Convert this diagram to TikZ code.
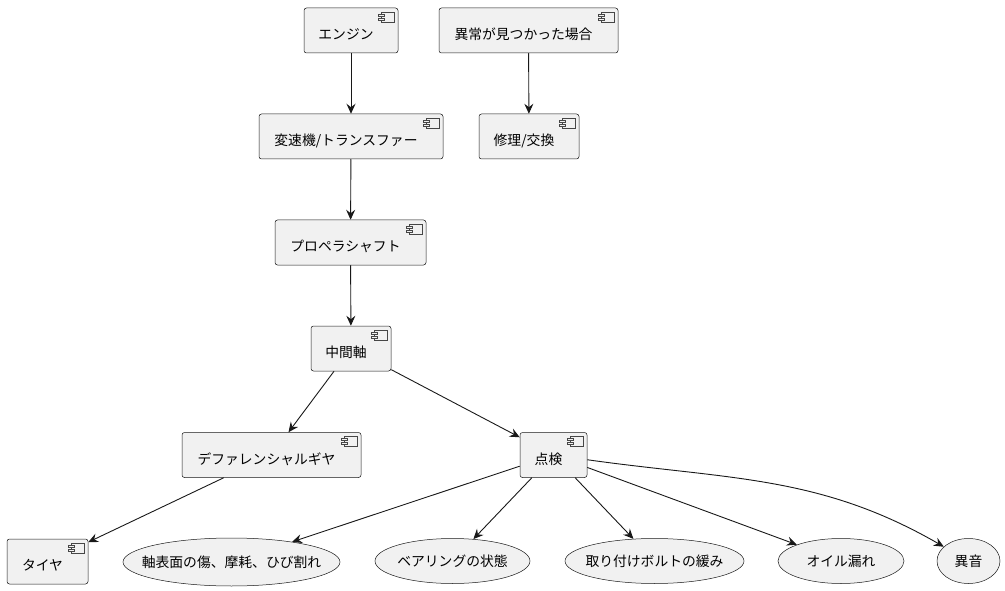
\documentclass[tikz,border=0pt]{standalone}
\usepackage{fontspec}
\newfontfamily\jp{Noto Sans CJK JP}
\usetikzlibrary{shapes.geometric,arrows.meta}
\definecolor{umlline}{HTML}{181818}
\definecolor{umlfill}{HTML}{F1F1F1}
\begin{document}
\begin{tikzpicture}[x=1pt, y=-1pt,
  comp/.style = {draw=umlline, fill=umlfill, line width=0.5pt, rounded corners=2.5pt,
    minimum height=45pt, inner xsep=2pt, text height=18pt, text depth=0pt,
    font=\jp\fontsize{13.8}{16}\selectfont, execute at end node=\hspace*{10pt}},
  usecase/.style = {ellipse, draw=umlline, fill=umlfill, line width=0.5pt,
    inner xsep=-16pt, inner ysep=-12pt, minimum height=45pt,
    font=\jp\fontsize{13.8}{16}\selectfont},
  flow/.style = {draw=umlline, line width=0.9pt, -{Stealth[length=10pt, width=9pt, inset=3.5pt]}}]
\useasboundingbox (0,0) rectangle (1005,591);

% components
\node[comp, minimum width=94pt]  (engine) at (351,30.5)  {エンジン};
\node[comp, minimum width=179pt] (found)  at (528.5,30.5) {異常が見つかった場合};
\node[comp, minimum width=184pt] (trans)  at (351,136.5) {変速機/トランスファー};
\node[comp, minimum width=100pt] (repair) at (529,136.5) {修理/交換};
\node[comp, minimum width=151pt] (prop)   at (350.5,242.5) {プロペラシャフト};
\node[comp, minimum width=80pt]  (mid)    at (351,348.5) {中間軸};
\node[comp, minimum width=179pt] (diff)   at (271.5,455) {デファレンシャルギヤ};
\node[comp, minimum width=67pt]  (check)  at (553.5,455) {点検};
\node[comp, minimum width=81pt]  (tire)   at (47.5,561.5) {タイヤ};

% check items
\node[usecase, minimum width=217pt, minimum height=48pt] (scratch) at (231.5,562) {軸表面の傷、摩耗、ひび割れ};
\node[usecase, minimum width=155pt] (bearing) at (452.5,561) {ベアリングの状態};
\node[usecase, minimum width=179pt] (bolt)    at (654.5,561) {取り付けボルトの緩み};
\node[usecase, minimum width=126pt] (oil)     at (841,561)   {オイル漏れ};
\node[usecase, minimum width=63pt]  (noise)   at (968.5,561) {異音};

% component icons
\foreach \n in {engine,found,trans,repair,prop,mid,diff,check,tire} {
  \begin{scope}[shift={(\n.north east)}, draw=umlline!80, line width=0.35pt]
    \draw[fill=umlfill] (-17,4) rectangle (-4,14);
    \draw[fill=umlfill] (-20,6) rectangle (-14.5,8);
    \draw[fill=umlfill] (-20,10) rectangle (-14.5,12);
  \end{scope}
}

\draw[flow] (engine) -- (trans);
\draw[flow] (found) -- (repair);
\draw[flow] (trans) -- (prop);
\draw[flow] (prop) -- (mid);
\draw[flow] (mid) -- (diff);
\draw[flow] (mid) -- (check);
\draw[flow] (diff) -- (tire);
\draw[flow] (check) -- (scratch);
\draw[flow] (check) -- (bearing);
\draw[flow] (check) -- (bolt);
\draw[flow] (check) -- (oil);
\draw[flow] (check) to[out=-8, in=150] (noise);

\end{tikzpicture}
\end{document}
